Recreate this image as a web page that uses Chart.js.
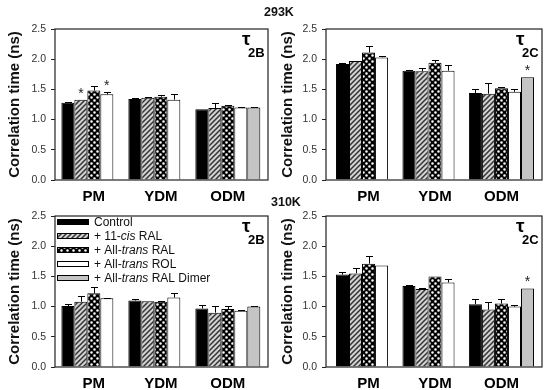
<!DOCTYPE html>
<html>
<head>
<meta charset="utf-8">
<script src="https://cdn.jsdelivr.net/npm/chart.js@4.4.0/dist/chart.umd.min.js"></script>
<style>
body { margin: 0; background: #fff; }
#wrap { position: relative; width: 550px; height: 390px; overflow: hidden; font-family: "Liberation Sans", Arial, sans-serif; }
canvas { position: absolute; }
.temp { position: absolute; font-weight: bold; font-size: 12.5px; color: #111; }
</style>
</head>
<body>
<div id="wrap">
  <canvas id="c293B" width="275" height="205" style="left:0;top:0"></canvas>
  <canvas id="c293C" width="275" height="205" style="left:275px;top:0"></canvas>
  <canvas id="c310B" width="275" height="195" style="left:0;top:195px"></canvas>
  <canvas id="c310C" width="275" height="195" style="left:275px;top:195px"></canvas>
  <div class="temp" style="left:264px;top:5px">293K</div>
  <div class="temp" style="left:271px;top:195px">310K</div>
</div>
<script>
var categories = ['PM', 'YDM', 'ODM'];
var seriesNames = ['Control', '+ 11-cis RAL', '+ All-trans RAL', '+ All-trans ROL', '+ All-trans RAL Dimer'];
var yTicks = [0, 0.5, 1, 1.5, 2, 2.5];

// rows = series (Control, 11-cis RAL, all-trans RAL, all-trans ROL, RAL dimer), cols = PM, YDM, ODM
var tau2B_293 = [
    [1.28, 1.34, 1.17],
    [1.33, 1.36, 1.19],
    [1.48, 1.38, 1.23],
    [1.42, 1.33, 1.20],
    [null, null, 1.20]
];
var tau2B_293_sd = [
    [0.01, 0.01, 0.00],
    [0.00, 0.01, 0.09],
    [0.08, 0.03, 0.01],
    [0.03, 0.09, 0.01],
    [null, null, 0.01]
];
var tau2B_293_star = [[1, 0], [3, 0]];

var tau2C_293 = [
    [1.92, 1.81, 1.44],
    [1.97, 1.80, 1.43],
    [2.11, 1.94, 1.52],
    [2.03, 1.81, 1.46],
    [null, null, 1.70]
];
var tau2C_293_sd = [
    [0.01, 0.01, 0.06],
    [0.00, 0.05, 0.17],
    [0.11, 0.04, 0.02],
    [0.02, 0.09, 0.04],
    [null, null, 0.00]
];
var tau2C_293_star = [[4, 2]];

var tau2B_310 = [
    [1.01, 1.10, 0.97],
    [1.08, 1.09, 0.90],
    [1.22, 1.08, 0.96],
    [1.14, 1.15, 0.93],
    [null, null, 1.00]
];
var tau2B_310_sd = [
    [0.04, 0.02, 0.06],
    [0.10, 0.00, 0.11],
    [0.11, 0.02, 0.05],
    [0.01, 0.07, 0.01],
    [null, null, 0.01]
];
var tau2B_310_star = [];

var tau2C_310 = [
    [1.53, 1.34, 1.04],
    [1.55, 1.29, 0.95],
    [1.71, 1.50, 1.05],
    [1.68, 1.40, 1.00],
    [null, null, 1.30]
];
var tau2C_310_sd = [
    [0.04, 0.01, 0.08],
    [0.09, 0.02, 0.12],
    [0.12, 0.00, 0.07],
    [0.00, 0.05, 0.02],
    [null, null, 0.00]
];
var tau2C_310_star = [[4, 2]];

var FONT = '"Liberation Sans", Arial, sans-serif';

function hatchPattern() {
    var c = document.createElement('canvas');
    c.width = 5; c.height = 5;
    var g = c.getContext('2d');
    g.fillStyle = '#d2d2d2';
    g.fillRect(0, 0, 5, 5);
    g.strokeStyle = '#333';
    g.lineWidth = 1.5;
    g.beginPath();
    g.moveTo(-1, 6); g.lineTo(6, -1);
    g.moveTo(-1, 1); g.lineTo(1, -1);
    g.moveTo(4, 6); g.lineTo(6, 4);
    g.stroke();
    return g.createPattern(c, 'repeat');
}

function dotPattern() {
    var c = document.createElement('canvas');
    c.width = 6; c.height = 6;
    var g = c.getContext('2d');
    g.fillStyle = '#000';
    g.fillRect(0, 0, 6, 6);
    g.fillStyle = '#fff';
    g.beginPath();
    g.arc(1.5, 1.5, 1.3, 0, Math.PI * 2);
    g.arc(4.5, 4.5, 1.3, 0, Math.PI * 2);
    g.fill();
    return g.createPattern(c, 'repeat');
}

var fills = ['#000', hatchPattern(), dotPattern(), '#fff', '#c4c4c4'];

// error bars, stars, frame, tau label and legend
var panelPlugin = {
    id: 'panel',
    afterDatasetsDraw: function(chart, args, o) {
        var ctx = chart.ctx;
        var a = chart.chartArea;
        var yScale = chart.scales.y;
        ctx.save();
        ctx.strokeStyle = '#000';
        ctx.lineWidth = 1;
        chart.data.datasets.forEach(function(ds, s) {
            var meta = chart.getDatasetMeta(s);
            meta.data.forEach(function(bar, i) {
                var v = ds.data[i].y, sd = ds.sd[i];
                if (v == null || !sd) return;
                var yt = Math.round(yScale.getPixelForValue(v + sd)) + 0.5;
                var x = Math.round(bar.x) + 0.5;
                ctx.beginPath();
                ctx.moveTo(x, bar.y);
                ctx.lineTo(x, yt);
                ctx.moveTo(x - 3.5, yt);
                ctx.lineTo(x + 3.5, yt);
                ctx.stroke();
            });
        });

        ctx.fillStyle = '#222';
        ctx.font = '14px ' + FONT;
        ctx.textAlign = 'center';
        ctx.textBaseline = 'alphabetic';
        o.stars.forEach(function(st) {
            var ds = chart.data.datasets[st[0]];
            var bar = chart.getDatasetMeta(st[0]).data[st[1]];
            var top = ds.data[st[1]].y + (ds.sd[st[1]] || 0);
            ctx.fillText('*', bar.x, yScale.getPixelForValue(top) - 2);
        });

        ctx.strokeStyle = '#222';
        ctx.lineWidth = 1.2;
        ctx.strokeRect(a.left, a.top, a.width, a.height);

        ctx.fillStyle = '#000';
        ctx.textAlign = 'left';
        ctx.font = 'bold 19px ' + FONT;
        ctx.fillText('\u03c4', a.right - 26, a.top + 16);
        ctx.font = 'bold 13px ' + FONT;
        ctx.fillText(o.sub, a.right - 20, a.top + 28);

        if (o.legend) {
            ctx.textBaseline = 'middle';
            chart.data.datasets.forEach(function(ds, s) {
                var cy = a.top + 6 + s * 14;
                ctx.fillStyle = ds.backgroundColor;
                ctx.fillRect(a.left + 2, cy - 2.5, 31, 5);
                ctx.strokeStyle = '#000';
                ctx.lineWidth = 1;
                ctx.strokeRect(a.left + 2.5, cy - 2.5, 31, 5);
                var x = a.left + 39;
                ctx.fillStyle = '#111';
                ds.label.split(/(cis|trans)/).forEach(function(part) {
                    if (!part) return;
                    var it = part === 'cis' || part === 'trans';
                    ctx.font = (it ? 'italic ' : '') + '12px ' + FONT;
                    ctx.fillText(part, x, cy + 0.5);
                    x += ctx.measureText(part).width;
                });
            });
        }
        ctx.restore();
    }
};

function buildChart(id, vals, sds, stars, sub, p) {
    var datasets = vals.map(function(row, s) {
        return {
            label: seriesNames[s],
            data: row.map(function(v, i) { return {x: i, y: v}; }),
            sd: sds[s],
            backgroundColor: fills[s],
            borderColor: '#000',
            borderWidth: 1,
            barPercentage: 1,
            categoryPercentage: p.catPct
        };
    });
    return new Chart(document.getElementById(id), {
        type: 'bar',
        data: {datasets: datasets},
        plugins: [panelPlugin],
        options: {
            responsive: false,
            animation: false,
            devicePixelRatio: 1,
            layout: {padding: {left: 0, right: p.padRight, top: p.padTop, bottom: 0}},
            plugins: {
                legend: {display: false},
                tooltip: {enabled: false},
                panel: {stars: stars, sub: sub, legend: !!p.legend}
            },
            scales: {
                x: {
                    type: 'linear',
                    offset: false,
                    min: p.xMin,
                    max: p.xMax,
                    grid: {display: false},
                    border: {display: false},
                    afterBuildTicks: function(s) {
                        s.ticks = categories.map(function(c, i) { return {value: i}; });
                    },
                    afterFit: function(s) { s.height = p.xHeight; },
                    ticks: {
                        callback: function(v) { return categories[v]; },
                        font: {family: FONT, size: 15, weight: 'bold'},
                        color: '#000',
                        padding: 0,
                        maxRotation: 0,
                        autoSkip: false
                    }
                },
                y: {
                    min: 0,
                    max: 2.5,
                    afterBuildTicks: function(s) {
                        s.ticks = yTicks.map(function(v) { return {value: v}; });
                    },
                    afterFit: function(s) { s.width = p.axisW; },
                    grid: {drawOnChartArea: false, drawTicks: true, tickLength: 4, color: '#222'},
                    border: {display: false},
                    ticks: {
                        callback: function(v) { return v.toFixed(1); },
                        font: {family: FONT, size: 10.5},
                        color: '#333',
                        padding: 5
                    },
                    title: {
                        display: true,
                        text: 'Correlation time (ns)',
                        font: {family: FONT, size: 15, weight: 'bold'},
                        color: '#111',
                        padding: {top: p.titlePad, bottom: 0}
                    }
                }
            }
        }
    });
}

var leftPanel = {axisW: 55, padRight: 7, xMin: -0.58, xMax: 2.6, catPct: 0.97, titlePad: 6};
var rightPanel = {axisW: 51, padRight: 8, xMin: -0.64, xMax: 2.61, catPct: 0.98, titlePad: 4};

buildChart('c293B', tau2B_293, tau2B_293_sd, tau2B_293_star, '2B',
    Object.assign({padTop: 29, xHeight: 25}, leftPanel));
buildChart('c293C', tau2C_293, tau2C_293_sd, tau2C_293_star, '2C',
    Object.assign({padTop: 29, xHeight: 25}, rightPanel));
buildChart('c310B', tau2B_310, tau2B_310_sd, tau2B_310_star, '2B',
    Object.assign({padTop: 21, xHeight: 23, legend: true}, leftPanel));
buildChart('c310C', tau2C_310, tau2C_310_sd, tau2C_310_star, '2C',
    Object.assign({padTop: 21, xHeight: 23}, rightPanel));
</script>
</body>
</html>
